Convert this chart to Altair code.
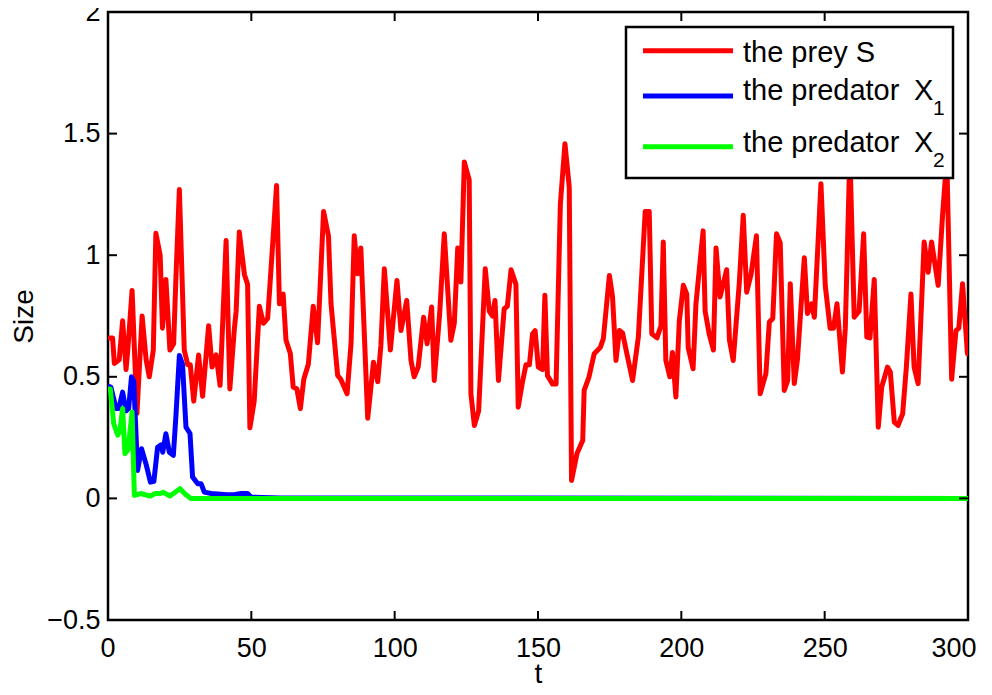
import altair as alt
import pandas as pd

# ---------------- data ----------------
prey_t = [0.5, 1.6, 2.2, 3.9, 5.1, 6.3, 6.9, 8.4, 10.1, 11.9, 13.3, 14.4, 15.8, 16.7, 18.2, 19.0,
          20.2, 21.6, 22.9, 23.7, 24.9, 26.6, 27.8, 28.7, 29.9, 31.6, 33.0, 35.1, 36.3, 37.7, 39.1,
          41.2, 42.5, 44.1, 44.7, 45.8, 47.6, 48.7, 49.5, 51.0, 52.8, 54.2, 55.7, 56.4, 58.8, 59.8,
          61.1, 62.1, 63.6, 64.6, 65.9, 67.1, 68.3, 69.9, 71.6, 73.1, 75.2, 76.9, 77.8, 80.1, 81.2,
          83.4, 84.8, 85.9, 87.1, 88.2, 90.6, 92.6, 94.1, 95.2, 96.4, 98.5, 100.8, 102.2, 104.2,
          105.7, 106.8, 108.2, 110.1, 111.3, 112.9, 113.8, 115.7, 117.3, 119.6, 120.8, 122.0, 123.1,
          124.3, 126.0, 126.6, 127.8, 129.3, 131.6, 133.0, 134.1, 135.0, 136.2, 138.2, 139.3, 140.6,
          142.3, 143.1, 144.6, 145.8, 147.0, 148.1, 149.0, 150.1, 151.6, 152.4, 153.3, 155.1, 156.3,
          157.8, 159.4, 160.9, 161.7, 163.6, 165.6, 166.1, 167.8, 169.6, 171.7, 172.8, 174.9, 176.0,
          177.2, 178.4, 179.5, 181.1, 183.0, 185.0, 187.4, 188.8, 189.7, 191.5, 192.9, 193.7, 194.6,
          196.0, 196.9, 198.1, 199.3, 200.7, 201.9, 202.4, 204.1, 205.1, 207.6, 208.3, 209.7, 211.2,
          212.1, 213.5, 215.8, 216.8, 218.1, 220.2, 221.6, 222.8, 224.3, 226.2, 227.5, 229.5, 230.7,
          231.9, 233.2, 234.5, 235.9, 237.1, 238.0, 239.4, 240.5, 242.9, 244.0, 245.4, 246.4, 248.7,
          250.2, 251.9, 253.1, 254.3, 256.2, 257.2, 258.8, 260.3, 262.0, 263.6, 264.7, 265.8, 267.3,
          268.7, 269.9, 271.9, 272.9, 274.3, 275.6, 277.2, 278.5, 280.1, 281.2, 282.6, 284.7, 286.1,
          287.3, 289.6, 291.1, 292.6, 294.3, 295.8, 296.8, 298.1, 299.8]
prey_v = [0.66, 0.66, 0.555, 0.57, 0.73, 0.53, 0.61, 0.855, 0.35, 0.75, 0.57, 0.50, 0.61, 1.09, 1.00, 0.70,
          0.90, 0.61, 0.636, 0.91, 1.27, 0.61, 0.55, 0.55, 0.40, 0.59, 0.42, 0.71, 0.54, 0.59, 0.465,
          1.06, 0.45, 0.70, 0.77, 1.095, 0.92, 0.88, 0.29, 0.40, 0.79, 0.72, 0.74, 0.86, 1.287, 0.80,
          0.84, 0.65, 0.596, 0.458, 0.45, 0.369, 0.49, 0.553, 0.79, 0.64, 1.18, 1.08, 0.80, 0.506, 0.49,
          0.43, 0.64, 1.08, 0.924, 1.03, 0.33, 0.56, 0.48, 0.63, 0.944, 0.61, 0.896, 0.69, 0.814,
          0.567, 0.50, 0.54, 0.745, 0.636, 0.787, 0.485, 0.76, 1.088, 0.65, 0.72, 1.03, 0.89,
          1.383, 1.31, 0.43, 0.30, 0.36, 0.944, 0.77, 0.75, 0.814, 0.485, 0.78, 0.79, 0.94,
          0.88, 0.375, 0.48, 0.55, 0.55, 0.677, 0.69, 0.54, 0.53, 0.835, 0.505, 0.47, 0.47,
          1.21, 1.458, 1.28, 0.074, 0.185, 0.238, 0.444, 0.50, 0.595, 0.62, 0.657, 0.917, 0.83,
          0.567, 0.69, 0.68, 0.59, 0.485, 0.663, 1.18, 1.18, 0.677, 0.66, 0.71, 1.054, 0.567,
          0.50, 0.60, 0.417, 0.73, 0.876, 0.84, 0.62, 0.533, 0.80, 1.10, 0.77, 0.677, 0.61,
          1.03, 0.828, 0.94, 0.65, 0.567, 0.883, 1.164, 0.848, 0.92, 1.08, 0.43, 0.513, 0.725,
          0.74, 1.088, 1.05, 0.444, 0.485, 0.883, 0.472, 0.57, 0.99, 0.76, 0.80, 0.745, 1.294,
          0.876, 0.70, 0.70, 0.80, 0.52, 0.70, 1.42, 0.745, 0.77, 1.088, 0.663, 0.66, 0.90,
          0.293, 0.458, 0.54, 0.52, 0.314, 0.30, 0.348, 0.54, 0.84, 0.54, 0.472, 1.054, 0.93,
          1.054, 0.876, 1.16, 1.40, 0.49, 0.69, 0.70, 0.883, 0.595]

x1_t = [0.5, 1.0, 2.8, 3.8, 5.1, 6.3, 7.2, 8.2, 9.0, 10.3, 11.7, 13.3, 14.8, 16.0, 17.3, 18.5, 19.1,
        20.2, 21.4, 22.8, 23.7, 24.9, 26.0, 27.2, 28.6, 29.5, 31.3, 32.5, 33.6, 36.0, 41.5, 44.0,
        46.4, 48.7, 49.9, 60.0, 300.0]
x1_v = [0.46, 0.458, 0.37, 0.37, 0.437, 0.36, 0.37, 0.50, 0.48, 0.115, 0.204, 0.14, 0.067, 0.07, 0.21,
        0.22, 0.19, 0.266, 0.19, 0.177, 0.34, 0.588, 0.55, 0.293, 0.267, 0.088, 0.06, 0.06, 0.026,
        0.02, 0.015, 0.015, 0.02, 0.02, 0.005, 0.002, 0.0]

x2_t = [0.5, 0.8, 2.0, 3.4, 4.2, 5.1, 5.9, 7.0, 8.4, 9.2, 11.4, 13.0, 14.8, 16.5, 18.0, 19.3, 21.6,
        25.1, 27.2, 28.9, 300.0]
x2_v = [0.45, 0.45, 0.307, 0.26, 0.28, 0.37, 0.184, 0.20, 0.355, 0.012, 0.02, 0.015, 0.01, 0.02,
        0.02, 0.025, 0.01, 0.04, 0.015, 0.0, 0.0]

x_ticks = [0, 50, 100, 150, 200, 250, 300]
y_ticks = [-0.5, 0, 0.5, 1, 1.5, 2]
legend_names = ["the prey S", "the predator", "the predator"]
legend_subs = ["", "1", "2"]
series_colors = ["#ff0000", "#0000ff", "#00ff00"]

# ---------------- layout / style ----------------
W, H = 860, 608
FONT = "Liberation Sans"
xs = alt.Scale(domain=[0, 300], nice=False, zero=False)
ys = alt.Scale(domain=[-0.5, 2], nice=False, zero=False)
one = pd.DataFrame({"k": [0]})

x_axis = alt.Axis(values=x_ticks, format="~f", ticks=False, tickSize=0, domain=False, grid=False,
                  labelFont=FONT, labelFontSize=27, labelColor="black", labelPadding=15,
                  labelFlush=True, labelFlushOffset=8, labelOverlap=False,
                  title="t", titleFont=FONT, titleFontSize=28, titleFontWeight="normal",
                  titleColor="black", titleX=W / 2, titleY=62, titleBaseline="alphabetic",
                  titleAlign="center")
y_axis = alt.Axis(values=y_ticks, format="~f", ticks=False, tickSize=0, domain=False, grid=False,
                  labelFont=FONT, labelFontSize=27, labelColor="black", labelPadding=8,
                  labelFlush=False, labelOverlap=False,
                  title="Size", titleFont=FONT, titleFontSize=28, titleFontWeight="normal",
                  titleColor="black", titleAngle=270, titleX=-76, titleY=H / 2,
                  titleBaseline="alphabetic", titleAlign="center")


def line_layer(ts, vs, color, with_axes=False):
    df = pd.DataFrame({"t": ts, "v": vs})
    if with_axes:
        xe = alt.X("t:Q", scale=xs, axis=x_axis)
        ye = alt.Y("v:Q", scale=ys, axis=y_axis)
    else:
        xe = alt.X("t:Q", scale=xs)
        ye = alt.Y("v:Q", scale=ys)
    return alt.Chart(df).mark_line(color=color, strokeWidth=5, strokeJoin="round",
                                   strokeCap="round", clip=True).encode(x=xe, y=ye)


layers = [
    line_layer(prey_t, prey_v, series_colors[0], with_axes=True),
    line_layer(x1_t, x1_v, series_colors[1]),
    line_layer(x2_t, x2_v, series_colors[2]),
]

# inward ticks on all four sides (MATLAB box style)
xt = pd.DataFrame({"t": x_ticks})
yt = pd.DataFrame({"v": y_ticks})
tick_style = dict(color="black", strokeWidth=2)
layers.append(alt.Chart(xt).mark_rule(**tick_style).encode(
    x=alt.X("t:Q", scale=xs), y=alt.value(H), y2=alt.value(H - 9)))
layers.append(alt.Chart(xt).mark_rule(**tick_style).encode(
    x=alt.X("t:Q", scale=xs), y=alt.value(0), y2=alt.value(9)))
layers.append(alt.Chart(yt).mark_rule(**tick_style).encode(
    y=alt.Y("v:Q", scale=ys), x=alt.value(0), x2=alt.value(9)))
layers.append(alt.Chart(yt).mark_rule(**tick_style).encode(
    y=alt.Y("v:Q", scale=ys), x=alt.value(W - 9), x2=alt.value(W)))

# legend box (drawn on top of the lines, like the reference)
layers.append(alt.Chart(one).mark_rect(fill="white", stroke="black", strokeWidth=2.5).encode(
    x=alt.value(518), x2=alt.value(845), y=alt.value(15), y2=alt.value(166)))
line_y = [38.7, 84, 134.7]
text_y = [49.7, 88, 139.7]
sub_y = [103, 103, 155]
for i, name in enumerate(legend_names):
    layers.append(alt.Chart(one).mark_rule(color=series_colors[i], strokeWidth=5).encode(
        x=alt.value(535), x2=alt.value(625), y=alt.value(line_y[i])))
    layers.append(alt.Chart(one).mark_text(text=name, font=FONT, fontSize=29, align="left",
                                           baseline="alphabetic", color="black").encode(
        x=alt.value(635), y=alt.value(text_y[i])))
    if legend_subs[i]:
        layers.append(alt.Chart(one).mark_text(text="X", font=FONT, fontSize=29, align="left",
                                               baseline="alphabetic", color="black").encode(
            x=alt.value(806), y=alt.value(text_y[i])))
        layers.append(alt.Chart(one).mark_text(text=legend_subs[i], font=FONT, fontSize=21,
                                               align="left", baseline="alphabetic",
                                               color="black").encode(
            x=alt.value(825), y=alt.value(sub_y[i])))

chart = alt.layer(*layers).properties(
    width=W, height=H, autosize="none",
    padding={"left": 100, "top": 4, "right": 16, "bottom": 67},
).configure_view(stroke="black", strokeWidth=2.5)

chart.save("out.html", embed_options={"renderer": "svg", "actions": False})
